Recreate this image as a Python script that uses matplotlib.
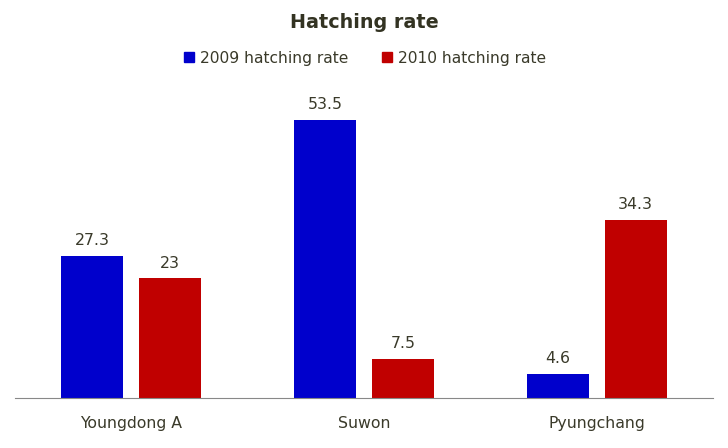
import matplotlib.pyplot as plt
import numpy as np
from matplotlib.lines import Line2D

# data
sites = ['Youngdong A', 'Suwon', 'Pyungchang']
rate_2009 = [27.3, 53.5, 4.6]
rate_2010 = [23, 7.5, 34.3]
series_names = ['2009 hatching rate', '2010 hatching rate']
colors = ['#0000CC', '#C00000']
text_color = '#3a3a2a'

fig = plt.figure(figsize=(7.28, 4.48), dpi=100)
ax = fig.add_axes([15 / 728, 1 - 398 / 448, 698 / 728, (398 - 86) / 448])

x = np.arange(len(sites))
width = 0.2665
offset = 0.1676

for vals, off, col in zip([rate_2009, rate_2010], [-offset, offset], colors):
    bars = ax.bar(x + off, vals, width, color=col, zorder=2)
    for b, v in zip(bars, vals):
        ax.text(b.get_x() + b.get_width() / 2, v + 1.5, f'{v:g}',
                ha='center', va='bottom', fontsize=11.3, color=text_color)

ax.set_xlim(-0.5, 2.5)
ax.set_ylim(0, 60)
ax.set_xticks(x)
ax.set_xticklabels(sites, fontsize=11.3, color=text_color)
ax.tick_params(axis='x', length=0, pad=13)
ax.set_yticks([])
for side in ['top', 'right', 'left']:
    ax.spines[side].set_visible(False)
ax.spines['bottom'].set_color('#888888')

fig.text(0.5, 1 - 22 / 448, 'Hatching rate', ha='center', va='center',
         fontsize=13.8, fontweight='bold', color='#333322')

handles = [Line2D([], [], marker='s', linestyle='none', markersize=7,
                  markerfacecolor=c, markeredgecolor=c) for c in colors]
leg = fig.legend(handles, series_names, loc='center', bbox_to_anchor=(0.5, 1 - 58 / 448),
                 ncol=2, frameon=False, fontsize=11.2, handletextpad=0.2,
                 columnspacing=2.0, handlelength=1.0)
for t in leg.get_texts():
    t.set_color(text_color)

fig.savefig('out.png', dpi=100)
